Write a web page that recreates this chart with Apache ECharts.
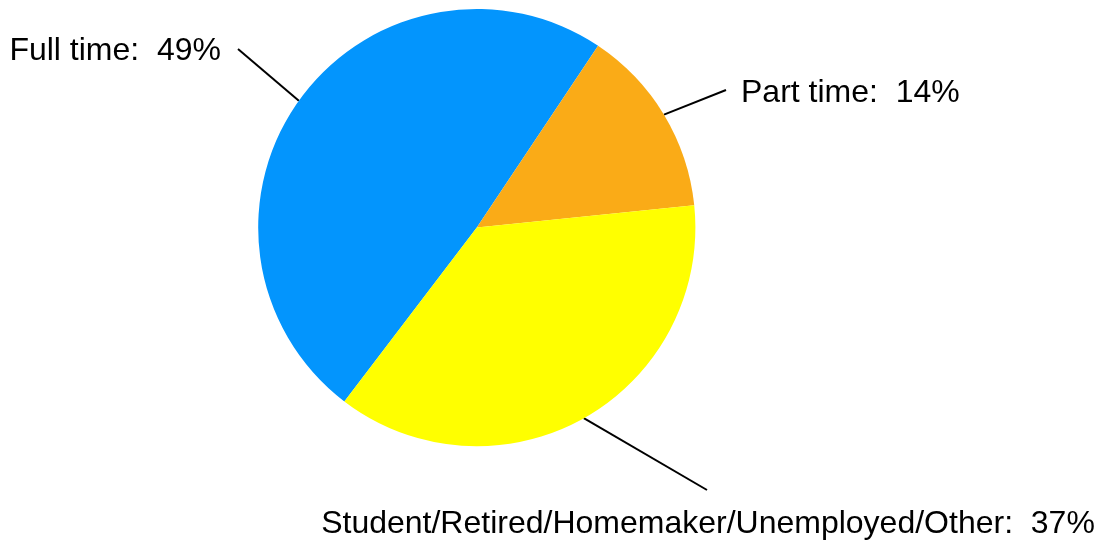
<!DOCTYPE html>
<html>
<head>
<meta charset="utf-8">
<title>Employment status</title>
<script src="https://cdn.jsdelivr.net/npm/echarts@6/dist/echarts.min.js"></script>
<style>
  html, body { margin: 0; padding: 0; background: #fff; }
  #chart { width: 1105px; height: 545px; }
</style>
</head>
<body>
<div id="chart"></div>
<script>
  // data
  var categories = ['Full time', 'Part time', 'Student/Retired/Homemaker/Unemployed/Other'];
  var percents = [49, 14, 37];
  var colors = ['#0395FD', '#FAAB17', '#FFFF00'];

  // where each label sits (text anchor, line end)
  var labelPos = [
    { x: 221, y: 51, align: 'right', vAlign: 'middle', end: [238, 49] },
    { x: 741, y: 93, align: 'left', vAlign: 'middle', end: [726, 90] },
    { x: 708, y: 524, align: 'center', vAlign: 'middle', end: [707, 490] }
  ];

  var myChart = echarts.init(document.getElementById('chart'));

  var data = categories.map(function (name, i) {
    return { name: name, value: percents[i], itemStyle: { color: colors[i] } };
  });

  myChart.setOption({
    animation: false,
    series: [{
      type: 'pie',
      center: [476.8, 227.6],
      radius: 218.6,
      startAngle: 232.7,
      clockwise: true,
      avoidLabelOverlap: false,
      itemStyle: { borderWidth: 0 },
      label: {
        show: true,
        position: 'outside',
        formatter: '{b}:  {c}%',
        color: '#000',
        fontSize: 32,
        fontFamily: 'Liberation Sans, Arial, sans-serif'
      },
      labelLine: {
        show: true,
        length: 20,
        length2: 0,
        lineStyle: { color: '#000', width: 2 }
      },
      labelLayout: function (params) {
        var p = labelPos[params.dataIndex];
        var start = params.labelLinePoints ? params.labelLinePoints[0] : p.end;
        return {
          x: p.x,
          y: p.y,
          align: p.align,
          verticalAlign: p.vAlign,
          labelLinePoints: [start, p.end]
        };
      },
      emphasis: { disabled: true },
      data: data
    }]
  });
</script>
</body>
</html>
